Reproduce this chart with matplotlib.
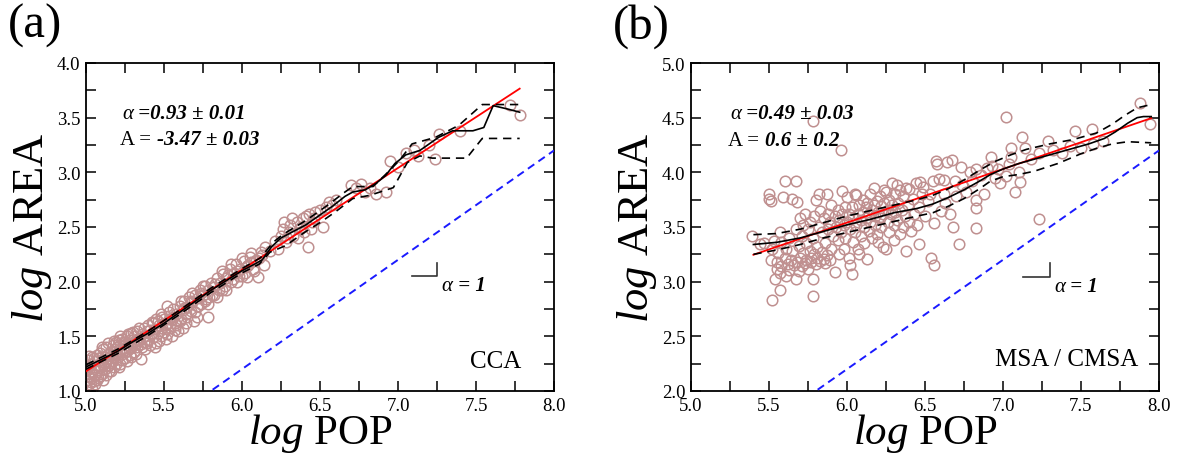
import numpy as np
import matplotlib
matplotlib.use("Agg")
import matplotlib.pyplot as plt
from matplotlib.ticker import MultipleLocator, FormatStrFormatter

plt.rcParams["font.family"] = ["Liberation Serif", "DejaVu Serif"]
plt.rcParams["mathtext.fontset"] = "custom"
plt.rcParams["mathtext.rm"] = "Liberation Serif"
plt.rcParams["mathtext.it"] = "Liberation Serif:italic"

# ---------------- (a) CCA ----------------
cca_points = [
    (5.00, 1.10), (5.00, 1.18), (5.00, 1.24), (5.01, 1.14), (5.01, 1.28), (5.02, 1.06), (5.02, 1.20),
    (5.03, 1.12), (5.03, 1.25), (5.04, 1.17), (5.04, 1.31), (5.05, 1.09), (5.05, 1.22), (5.06, 1.15),
    (5.06, 1.27), (5.07, 1.19), (5.07, 1.33), (5.08, 1.12), (5.08, 1.24), (5.09, 1.21), (5.09, 1.35),
    (5.10, 1.16), (5.10, 1.28), (5.11, 1.24), (5.11, 1.38), (5.12, 1.20), (5.12, 1.31), (5.13, 1.27),
    (5.13, 1.40), (5.14, 1.23), (5.14, 1.34), (5.15, 1.18), (5.15, 1.30), (5.16, 1.36), (5.16, 1.26),
    (5.17, 1.42), (5.17, 1.31), (5.18, 1.22), (5.18, 1.38), (5.19, 1.33), (5.19, 1.45), (5.20, 1.29),
    (5.20, 1.40), (5.21, 1.36), (5.21, 1.47), (5.22, 1.25), (5.22, 1.42), (5.23, 1.34), (5.23, 1.48),
    (5.24, 1.39), (5.25, 1.30), (5.25, 1.45), (5.26, 1.37), (5.26, 1.50), (5.27, 1.42), (5.28, 1.33),
    (5.28, 1.47), (5.29, 1.39), (5.29, 1.53), (5.30, 1.44), (5.31, 1.36), (5.31, 1.50), (5.32, 1.46),
    (5.33, 1.40), (5.33, 1.55), (5.34, 1.48), (5.35, 1.29), (5.35, 1.43), (5.36, 1.52), (5.37, 1.45),
    (5.37, 1.58), (5.38, 1.38), (5.38, 1.50), (5.39, 1.55), (5.40, 1.47), (5.40, 1.60), (5.41, 1.42),
    (5.42, 1.53), (5.42, 1.63), (5.43, 1.49), (5.44, 1.57), (5.45, 1.44), (5.45, 1.66), (5.46, 1.53),
    (5.47, 1.60), (5.48, 1.50), (5.48, 1.70), (5.49, 1.58), (5.50, 1.54), (5.50, 1.66), (5.51, 1.48),
    (5.52, 1.62), (5.53, 1.72), (5.54, 1.58), (5.55, 1.66), (5.56, 1.75), (5.57, 1.62), (5.58, 1.70),
    (5.59, 1.55), (5.60, 1.78), (5.61, 1.66), (5.62, 1.74), (5.63, 1.82), (5.64, 1.70), (5.65, 1.77),
    (5.66, 1.86), (5.67, 1.73), (5.68, 1.81), (5.69, 1.64), (5.70, 1.88), (5.71, 1.78), (5.72, 1.85),
    (5.73, 1.92), (5.74, 1.80), (5.75, 1.88), (5.76, 1.96), (5.77, 1.84), (5.78, 1.68), (5.78, 1.92),
    (5.80, 1.99), (5.81, 1.88), (5.82, 1.95), (5.84, 2.03), (5.85, 1.92), (5.86, 1.99), (5.88, 2.07),
    (5.89, 1.96), (5.90, 2.03), (5.92, 2.12), (5.93, 2.00), (5.95, 2.08), (5.96, 2.16), (5.98, 2.05),
    (5.99, 2.12), (6.01, 2.19), (6.02, 2.08), (6.04, 2.15), (6.05, 2.23), (6.07, 2.12), (6.09, 2.20),
    (6.10, 2.04), (6.12, 2.27), (6.15, 2.32), (6.21, 2.37), (6.23, 2.30), (6.25, 2.42), (6.26, 2.48),
    (6.28, 2.36), (6.30, 2.45), (6.31, 2.52), (6.33, 2.42), (6.35, 2.55), (6.37, 2.48), (6.39, 2.58),
    (6.40, 2.45), (6.42, 2.32), (6.43, 2.62), (6.45, 2.55), (6.47, 2.64), (6.52, 2.50), (6.54, 2.68),
    (6.56, 2.73), (6.58, 2.70), (6.70, 2.88), (6.73, 2.86), (6.76, 2.89), (6.79, 2.82), (6.82, 2.86),
    (6.86, 2.80), (6.92, 2.82), (6.95, 3.10), (7.00, 3.05), (7.05, 3.18), (7.10, 3.20), (7.13, 3.15),
    (7.20, 3.25), (7.24, 3.12), (7.26, 3.35), (7.40, 3.38), (7.72, 3.62), (7.78, 3.52),
    (5.00, 1.05), (5.01, 1.22), (5.02, 1.32), (5.03, 1.08), (5.04, 1.02), (5.05, 1.30), (5.06, 1.06),
    (5.07, 1.10), (5.08, 1.30), (5.09, 1.14), (5.10, 1.40), (5.11, 1.10), (5.12, 1.26), (5.13, 1.15),
    (5.14, 1.44), (5.15, 1.24), (5.16, 1.18), (5.17, 1.27), (5.18, 1.46), (5.19, 1.25), (5.20, 1.35),
    (5.21, 1.22), (5.22, 1.50), (5.23, 1.28), (5.24, 1.45), (5.25, 1.36), (5.26, 1.27), (5.27, 1.52),
    (5.28, 1.40), (5.29, 1.31), (5.30, 1.54), (5.31, 1.42), (5.32, 1.34), (5.33, 1.48), (5.34, 1.58),
    (5.36, 1.40), (5.37, 1.50), (5.39, 1.44), (5.41, 1.56), (5.43, 1.62), (5.44, 1.40), (5.46, 1.64),
    (5.47, 1.46), (5.49, 1.68), (5.51, 1.60), (5.52, 1.52), (5.53, 1.66), (5.55, 1.50), (5.56, 1.68),
    (5.58, 1.60), (5.60, 1.64), (5.62, 1.58), (5.63, 1.76), (5.65, 1.68), (5.67, 1.82), (5.70, 1.72),
    (5.72, 1.78), (5.74, 1.90), (5.76, 1.82), (5.79, 1.86), (5.82, 1.88), (5.83, 1.98), (5.87, 1.92),
    (5.91, 2.06), (5.94, 2.02), (5.97, 2.10), (6.00, 2.05), (6.03, 2.14), (6.06, 2.18), (6.08, 2.10),
    (6.11, 2.22), (6.14, 2.15),
    (5.52, 1.78), (5.57, 1.56), (5.61, 1.82), (5.64, 1.62), (5.68, 1.90), (5.71, 1.68), (5.75, 1.96),
    (5.78, 1.80), (5.84, 1.86), (5.87, 2.10), (5.90, 1.92), (5.93, 2.16), (5.97, 2.00), (6.00, 2.22),
    (6.03, 2.04), (6.06, 2.26), (6.13, 2.24), (6.18, 2.28), (6.27, 2.55), (6.29, 2.40), (6.32, 2.58),
    (6.36, 2.40), (6.38, 2.50), (6.41, 2.60), (6.44, 2.48), (6.46, 2.58), (6.50, 2.66), (6.60, 2.75),
]
cca_smooth = [
    (5.00, 1.22), (5.10, 1.29), (5.20, 1.36), (5.30, 1.45), (5.40, 1.53), (5.50, 1.62), (5.60, 1.72),
    (5.70, 1.82), (5.80, 1.92), (5.90, 2.01), (6.00, 2.10), (6.08, 2.16), (6.13, 2.20), (6.19, 2.32),
    (6.25, 2.40), (6.33, 2.46), (6.41, 2.52), (6.50, 2.61), (6.58, 2.69), (6.66, 2.78), (6.71, 2.82),
    (6.79, 2.84), (6.86, 2.90), (6.92, 2.97), (6.98, 3.08), (7.05, 3.16), (7.14, 3.20), (7.20, 3.26),
    (7.26, 3.32), (7.35, 3.38), (7.48, 3.38), (7.55, 3.41), (7.61, 3.61), (7.70, 3.58), (7.78, 3.55),
]
cca_upper = [
    (5.00, 1.24), (5.20, 1.38), (5.40, 1.55), (5.60, 1.74), (5.80, 1.94), (6.00, 2.12), (6.12, 2.22),
    (6.20, 2.36), (6.26, 2.43), (6.41, 2.56), (6.55, 2.70), (6.65, 2.81), (6.71, 2.87), (6.84, 2.87),
    (6.92, 2.98), (7.01, 3.11), (7.09, 3.26), (7.24, 3.32), (7.39, 3.43), (7.54, 3.62), (7.78, 3.62),
]
cca_lower = [
    (5.00, 1.20), (5.20, 1.34), (5.40, 1.51), (5.60, 1.70), (5.80, 1.90), (6.00, 2.08), (6.11, 2.16),
    (6.18, 2.27), (6.28, 2.33), (6.40, 2.45), (6.50, 2.54), (6.60, 2.64), (6.71, 2.76), (6.82, 2.79),
    (6.97, 2.86), (7.06, 3.09), (7.14, 3.15), (7.22, 3.13), (7.44, 3.13), (7.54, 3.31), (7.78, 3.31),
]
cca_alpha, cca_alpha_err = 0.93, 0.01
cca_A, cca_A_err = -3.47, 0.03
cca_fit_range = (5.0, 7.78)

# ---------------- (b) MSA / CMSA ----------------
msa_points = [
    (5.39, 3.42), (5.44, 3.34), (5.47, 3.35), (5.50, 3.76), (5.50, 3.80), (5.51, 3.20), (5.51, 3.74),
    (5.52, 2.83), (5.52, 3.30), (5.53, 3.37), (5.54, 3.02), (5.55, 3.18), (5.55, 3.12), (5.56, 3.26),
    (5.57, 2.92), (5.57, 3.08), (5.57, 3.45), (5.58, 3.36), (5.58, 3.14), (5.59, 3.77), (5.60, 3.92),
    (5.60, 3.22), (5.61, 3.05), (5.61, 3.30), (5.62, 3.16), (5.63, 3.40), (5.63, 3.11), (5.64, 3.20),
    (5.65, 3.76), (5.65, 3.28), (5.66, 3.15), (5.67, 3.92), (5.67, 3.02), (5.67, 3.48), (5.68, 3.73),
    (5.68, 3.18), (5.69, 3.10), (5.69, 3.33), (5.70, 3.58), (5.70, 3.22), (5.71, 3.42), (5.71, 3.14),
    (5.72, 3.26), (5.72, 3.52), (5.73, 3.17), (5.73, 3.62), (5.74, 3.35), (5.74, 3.20), (5.75, 3.48),
    (5.75, 3.12), (5.76, 3.28), (5.76, 3.55), (5.77, 3.22), (5.77, 3.18), (5.78, 2.87), (5.78, 3.02),
    (5.78, 4.47), (5.78, 3.40), (5.79, 3.25), (5.79, 3.60), (5.80, 3.16), (5.80, 3.75), (5.81, 3.32),
    (5.81, 3.22), (5.82, 3.80), (5.82, 3.50), (5.83, 3.19), (5.83, 3.65), (5.84, 3.27), (5.84, 3.45),
    (5.85, 3.21), (5.85, 3.58), (5.86, 3.17), (5.86, 3.35), (5.87, 3.80), (5.87, 3.24), (5.88, 3.62),
    (5.88, 3.48), (5.89, 3.20), (5.89, 3.55), (5.90, 3.70), (5.90, 3.30), (5.91, 3.42), (5.92, 3.09),
    (5.92, 3.60), (5.93, 3.50), (5.94, 3.66), (5.94, 3.38), (5.95, 3.56), (5.95, 3.25), (5.96, 4.20),
    (5.96, 3.45), (5.97, 3.83), (5.97, 3.62), (5.98, 3.30), (5.98, 3.52), (5.99, 3.68), (5.99, 3.40),
    (6.00, 3.77), (6.00, 3.55), (6.01, 3.22), (6.01, 3.62), (6.02, 3.15), (6.02, 3.48), (6.03, 3.07),
    (6.03, 3.68), (6.04, 3.36), (6.04, 3.58), (6.05, 3.80), (6.05, 3.45), (6.06, 3.79), (6.06, 3.52),
    (6.07, 3.62), (6.07, 3.30), (6.08, 3.25), (6.08, 3.70), (6.09, 3.56), (6.09, 3.42), (6.10, 3.75),
    (6.10, 3.64), (6.11, 3.50), (6.11, 3.35), (6.12, 3.68), (6.12, 3.58), (6.13, 3.21), (6.13, 3.72),
    (6.14, 3.46), (6.14, 3.62), (6.15, 3.80), (6.15, 3.55), (6.16, 3.66), (6.16, 3.40), (6.17, 3.86),
    (6.17, 3.70), (6.18, 3.60), (6.18, 3.52), (6.19, 3.74), (6.19, 3.44), (6.20, 3.64), (6.20, 3.36),
    (6.21, 3.78), (6.21, 3.58), (6.22, 3.69), (6.22, 3.50), (6.23, 3.62), (6.23, 3.32), (6.24, 3.84),
    (6.24, 3.72), (6.25, 3.82), (6.25, 3.30), (6.26, 3.55), (6.26, 3.66), (6.27, 3.75), (6.27, 3.45),
    (6.28, 3.62), (6.29, 3.90), (6.29, 3.70), (6.30, 3.52), (6.30, 3.38), (6.31, 3.80), (6.31, 3.64),
    (6.32, 3.88), (6.32, 3.56), (6.33, 3.72), (6.34, 3.44), (6.34, 3.84), (6.35, 3.66), (6.36, 3.78),
    (6.36, 3.50), (6.37, 3.60), (6.38, 3.28), (6.38, 3.86), (6.39, 3.70), (6.40, 3.85), (6.40, 3.55),
    (6.41, 3.46), (6.42, 3.76), (6.43, 3.62), (6.44, 3.90), (6.45, 3.52), (6.46, 3.34), (6.46, 3.68),
    (6.47, 3.91), (6.48, 3.80), (6.49, 3.87), (6.50, 3.60), (6.52, 3.74), (6.53, 3.80), (6.54, 3.22),
    (6.55, 3.92), (6.56, 3.15), (6.56, 3.54), (6.57, 4.10), (6.58, 4.08), (6.59, 3.94), (6.60, 3.65),
    (6.62, 3.93), (6.62, 3.80), (6.63, 3.72), (6.64, 4.09), (6.66, 3.62), (6.67, 4.11), (6.68, 3.50),
    (6.69, 3.92), (6.70, 3.78), (6.72, 3.34), (6.73, 4.05), (6.74, 3.88), (6.76, 3.82), (6.79, 4.00),
    (6.80, 3.92), (6.83, 3.49), (6.83, 3.67), (6.83, 4.03), (6.83, 3.75), (6.86, 3.98), (6.88, 3.80),
    (6.90, 4.04), (6.92, 4.14), (6.93, 4.06), (6.95, 3.95), (6.97, 4.03), (6.98, 3.90), (7.02, 4.51),
    (7.02, 3.97), (7.04, 4.08), (7.05, 4.22), (7.05, 4.14), (7.08, 3.82), (7.10, 4.00), (7.11, 3.91),
    (7.12, 4.32), (7.14, 4.22), (7.18, 4.12), (7.23, 4.18), (7.23, 3.57), (7.29, 4.29), (7.32, 4.20),
    (7.38, 4.18), (7.43, 4.24), (7.46, 4.38), (7.50, 4.22), (7.57, 4.40), (7.58, 4.26), (7.64, 4.29),
    (7.88, 4.63), (7.94, 4.44),
]
msa_smooth = [
    (5.40, 3.34), (5.55, 3.36), (5.70, 3.40), (5.85, 3.46), (6.00, 3.52), (6.15, 3.57), (6.30, 3.63),
    (6.45, 3.67), (6.55, 3.71), (6.65, 3.77), (6.75, 3.84), (6.85, 3.92), (6.92, 3.98), (7.00, 4.03),
    (7.10, 4.08), (7.25, 4.14), (7.40, 4.20), (7.55, 4.26), (7.65, 4.31), (7.72, 4.37), (7.80, 4.45),
    (7.86, 4.50), (7.90, 4.51), (7.95, 4.51),
]
msa_upper = [
    (5.40, 3.43), (5.55, 3.44), (5.70, 3.48), (5.85, 3.54), (6.00, 3.60), (6.15, 3.65), (6.30, 3.70),
    (6.45, 3.75), (6.55, 3.79), (6.65, 3.85), (6.75, 3.93), (6.85, 4.02), (6.95, 4.10), (7.05, 4.16),
    (7.15, 4.21), (7.30, 4.26), (7.45, 4.30), (7.60, 4.36), (7.70, 4.44), (7.78, 4.52), (7.86, 4.59),
    (7.95, 4.62),
]
msa_lower = [
    (5.40, 3.25), (5.55, 3.29), (5.70, 3.34), (5.85, 3.40), (6.00, 3.45), (6.15, 3.50), (6.30, 3.55),
    (6.45, 3.60), (6.55, 3.63), (6.65, 3.69), (6.75, 3.76), (6.85, 3.85), (6.92, 3.92), (7.00, 3.96),
    (7.10, 3.98), (7.20, 4.01), (7.35, 4.08), (7.50, 4.17), (7.60, 4.22), (7.70, 4.26), (7.80, 4.28),
    (7.95, 4.27),
]
msa_alpha, msa_alpha_err = 0.49, 0.03
msa_A, msa_A_err = 0.6, 0.2
msa_fit_range = (5.4, 7.95)

x_ticks = [5.0, 5.5, 6.0, 6.5, 7.0, 7.5, 8.0]
ylim_a = (1.0, 4.0)
ylim_b = (2.0, 5.0)
ref_offset_a = -4.8   # slope-1 reference: log AREA = log POP - 4.8
ref_offset_b = -3.8

MARKER_COLOR = "#c09090"
ANNOT_SIZE = 15


def xy(pairs):
    arr = np.array(pairs, dtype=float)
    return arr[:, 0], arr[:, 1]


def style_axes(ax, ylim):
    ax.set_xlim(x_ticks[0], x_ticks[-1])
    ax.set_ylim(*ylim)
    ax.xaxis.set_major_locator(MultipleLocator(0.5))
    ax.xaxis.set_minor_locator(MultipleLocator(0.25))
    ax.yaxis.set_major_locator(MultipleLocator(0.5))
    ax.yaxis.set_minor_locator(MultipleLocator(0.25))
    ax.xaxis.set_major_formatter(FormatStrFormatter("%.1f"))
    ax.yaxis.set_major_formatter(FormatStrFormatter("%.1f"))
    ax.tick_params(which="both", direction="in", top=True, right=True,
                   length=7, width=1.1, labelsize=13.5, pad=4)
    for s in ax.spines.values():
        s.set_linewidth(1.3)
    ax.set_xlabel(r"$\mathit{log}$ POP", fontsize=31, labelpad=-1.5)
    ax.set_ylabel(r"$\mathit{log}$ AREA", fontsize=32, labelpad=2)


def two_part(ax, x, y, first, second, first_style="italic", first_weight="normal"):
    """Write `first` then `second` (bold italic) on one baseline."""
    t1 = ax.text(x, y, first, fontsize=ANNOT_SIZE, style=first_style,
                 weight=first_weight, ha="left", va="bottom")
    ax.annotate(second, xy=(1, 0), xycoords=t1, fontsize=ANNOT_SIZE,
                style="italic", weight="bold", ha="left", va="bottom")


def draw_panel(ax, pts, smooth, upper, lower, alpha, alpha_err, A, A_err, A_txt,
               fit_range, ref_off, ylim, txt_xy, corner, region):
    px, py = xy(pts)
    ax.plot(px, py, "o", mfc="none", mec=MARKER_COLOR, ms=7.6, mew=1.1, zorder=2)

    # slope-1 reference line
    xr = np.array([x_ticks[0], x_ticks[-1]])
    ax.plot(xr, xr + ref_off, color="#1a1aff", lw=1.4, ls=(0, (4, 2.6)), zorder=3)

    # power-law fit
    xf = np.array(fit_range)
    ax.plot(xf, alpha * xf + A, color="red", lw=1.3, zorder=4)

    sx, sy = xy(smooth)
    ax.plot(sx, sy, color="black", lw=1.2, zorder=5)
    for band in (upper, lower):
        bx, by = xy(band)
        ax.plot(bx, by, color="black", lw=1.2, ls=(0, (5, 3.5)), zorder=5)

    tx, ty1, ty2 = txt_xy
    two_part(ax, tx, ty1, "\u03b1", " =%.2f \u00b1 %.2f" % (alpha, alpha_err))
    two_part(ax, tx - 0.01, ty2, "A = ", "%s \u00b1 %g" % (A_txt, A_err), first_style="normal")

    # slope marker
    cx0, cx1, cy0, cy1 = corner
    ax.plot([cx0, cx1, cx1], [cy0, cy0, cy1], color="#333333", lw=1.2, zorder=5)
    two_part(ax, cx1 + 0.03, cy0 - 0.17, "\u03b1", " = 1")

    ax.text(region[0], region[1], region[2], fontsize=18, ha="right", va="center")
    style_axes(ax, ylim)


fig = plt.figure(figsize=(11.78, 4.56), dpi=100)
ax_a = fig.add_axes([86 / 1178, 64 / 456, 468 / 1178, 328 / 456])
ax_b = fig.add_axes([691 / 1178, 64 / 456, 468 / 1178, 328 / 456])

draw_panel(ax_a, cca_points, cca_smooth, cca_upper, cca_lower,
           cca_alpha, cca_alpha_err, cca_A, cca_A_err, "-3.47",
           cca_fit_range, ref_offset_a, ylim_a,
           (5.23, 3.45, 3.21), (7.09, 7.25, 2.05, 2.17), (7.79, 1.27, "CCA"))
draw_panel(ax_b, msa_points, msa_smooth, msa_upper, msa_lower,
           msa_alpha, msa_alpha_err, msa_A, msa_A_err, "0.6",
           msa_fit_range, ref_offset_b, ylim_b,
           (5.25, 4.45, 4.20), (7.13, 7.30, 3.04, 3.17), (7.87, 2.29, "MSA / CMSA"))

fig.text(8 / 1178, 1 - 4 / 456, "(a)", fontsize=35, va="top", ha="left")
fig.text(613 / 1178, 1 - 4 / 456, "(b)", fontsize=35, va="top", ha="left")

fig.savefig("out.png", dpi=100)
